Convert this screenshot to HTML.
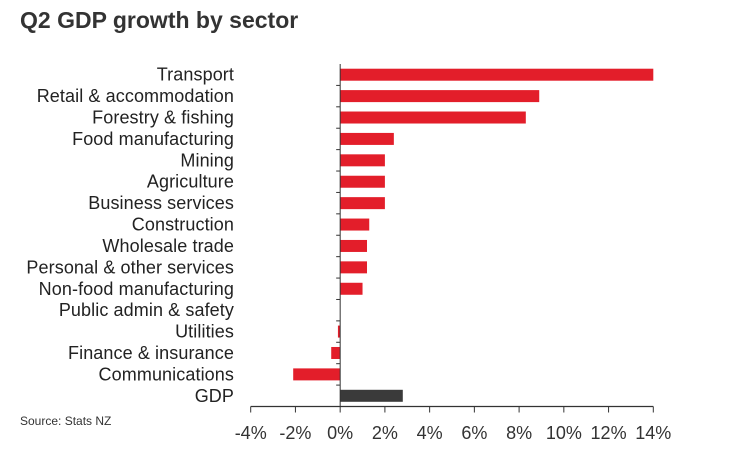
<!DOCTYPE html>
<html><head><meta charset="utf-8"><style>
body{margin:0;background:#fff;width:731px;height:460px;overflow:hidden;font-family:"Liberation Sans",Arial,sans-serif}
</style></head><body>
<svg width="731" height="460" xmlns="http://www.w3.org/2000/svg">
<text x="20" y="28" font-size="23" font-weight="bold" fill="#333">Q2 GDP growth by sector</text>
<text x="20" y="425" font-size="12" fill="#333">Source: Stats NZ</text>
<g id="plot"></g>
</svg>
<script>
const categories=["Transport","Retail & accommodation","Forestry & fishing","Food manufacturing","Mining","Agriculture","Business services","Construction","Wholesale trade","Personal & other services","Non-food manufacturing","Public admin & safety","Utilities","Finance & insurance","Communications","GDP"];
const values=[14.0,8.9,8.3,2.4,2.0,2.0,2.0,1.3,1.2,1.2,1.0,0,-0.1,-0.4,-2.1,2.8];
const ticks=[-4,-2,0,2,4,6,8,10,12,14];
const tickLabels=["-4%","-2%","0%","2%","4%","6%","8%","10%","12%","14%"];
const NS="http://www.w3.org/2000/svg";
const g=document.getElementById("plot");
const x0=250.7,x1=653.3,vmin=-4,vmax=14;
const yTop=64,yBottom=406.5;
const band=(yBottom-yTop)/categories.length;
const x=v=>x0+(v-vmin)/(vmax-vmin)*(x1-x0);
const y=i=>yTop+i*band;
function el(t,a){const e=document.createElementNS(NS,t);for(const k in a)e.setAttribute(k,a[k]);g.appendChild(e);return e;}
categories.forEach((c,i)=>{
  const v=values[i];
  const r=el("rect",{x:Math.min(x(0),x(v)),y:y(i)+band/2-6,width:Math.abs(x(v)-x(0)),height:12,fill:c==="GDP"?"#3a3a3a":"#e31e2a"});
  
  
  const t=el("text",{x:234,y:y(i)+band/2+6,"text-anchor":"end","font-size":"18","letter-spacing":"0.1",fill:"#222"});
  t.textContent=c;
  
  
  if(i>0){const tk=el("line",{x1:x(0)-4,x2:x(0),y1:y(i),y2:y(i),stroke:"#333","stroke-width":1});
  
  }
});
const zl=el("line",{x1:x(0),x2:x(0),y1:yTop,y2:yBottom,stroke:"#333","stroke-width":1});


const ax=el("line",{x1:x0,x2:x1,y1:yBottom,y2:yBottom,stroke:"#333","stroke-width":1.2});


ticks.forEach((v,i)=>{
  const l=el("line",{x1:x(v),x2:x(v),y1:yBottom,y2:yBottom+6,stroke:"#333","stroke-width":1});
  
  
  const t=el("text",{x:x(v),y:439,"text-anchor":"middle","font-size":"18",fill:"#333"});
  t.textContent=tickLabels[i];
  
  
});
</script>
</body></html>
